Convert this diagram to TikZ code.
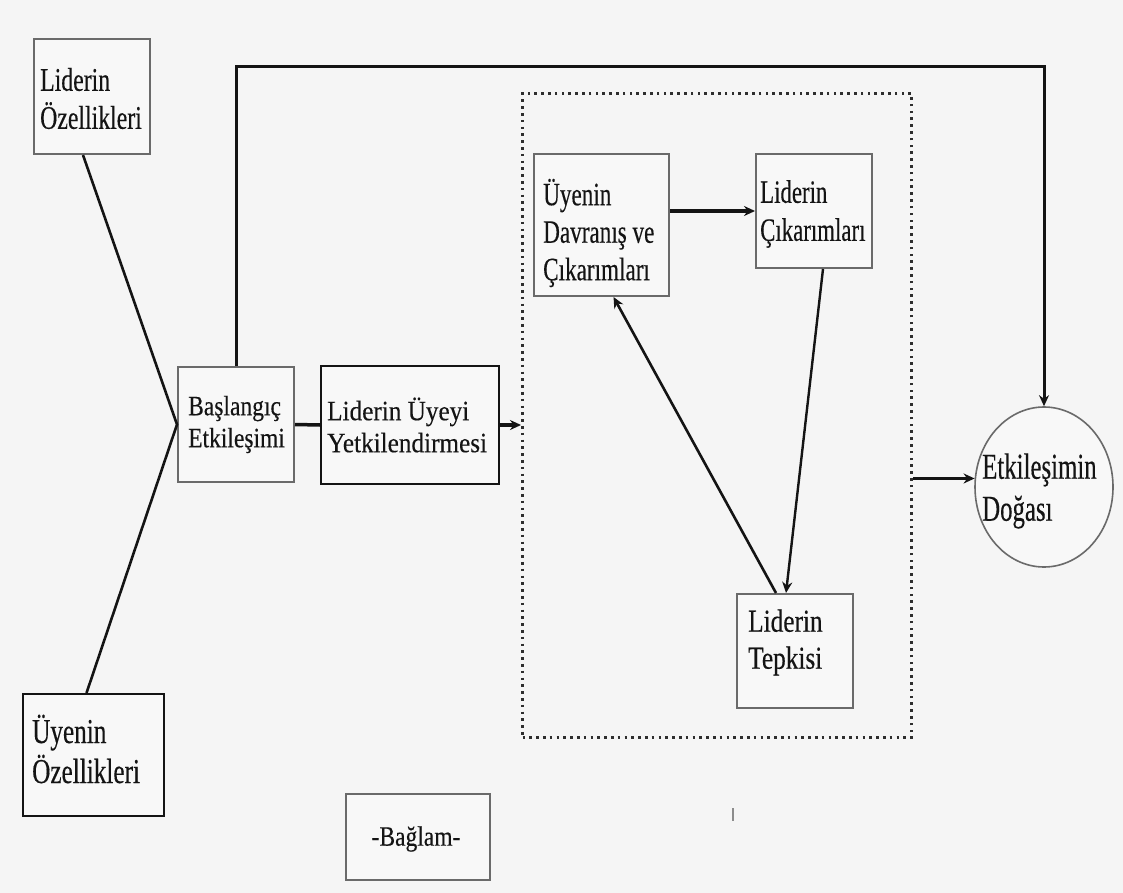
\documentclass[tikz,border=0pt]{standalone}
\usepackage{fontspec}
\setmainfont{Liberation Serif}
\usetikzlibrary{shapes.geometric,arrows.meta,calc}
\definecolor{paper}{HTML}{F5F5F5}
\definecolor{boxfill}{HTML}{F8F8F8}
\definecolor{greyline}{HTML}{6A6A6A}
\definecolor{ink}{HTML}{141414}
% condensed serif face, the width factor is the argument
\newcommand\narrowserif[1]{\fontspec{Liberation Serif}[FakeStretch=#1,FakeBold=0.3]}
\begin{document}
\begin{tikzpicture}[x=1pt,y=-1pt,
  every node/.style={text=ink},
  fs/.style n args={3}{font=\narrowserif{#3}\fontsize{#1}{#2}\selectfont},
  panel/.style={draw=greyline, line width=2pt, fill=boxfill, anchor=north west, inner sep=0pt},
  darkpanel/.style={panel, draw=ink},
  boxlabel/.style={anchor=west, align=left, inner sep=0pt},
  link/.style={draw=ink, line width=3pt},
  arrowlink/.style={link, -{Stealth[length=11pt,width=10pt]}},
  groupframe/.style={draw=black!82, line width=3pt, dash pattern=on 2.6pt off 4.2pt}]

% canvas
\fill[paper] (0,0) rectangle (1123,893);
\useasboundingbox (0,0) rectangle (1123,893);

% dotted frame around the exchange cycle
\node[groupframe, anchor=north west, minimum width=389pt, minimum height=644pt,
  inner sep=0pt] (grp) at (521,92) {};

% boxes
\node[panel, minimum width=116pt, minimum height=115pt] (lo) at (33,38) {};
\node[darkpanel, minimum width=141pt, minimum height=122pt] (uo) at (22,693) {};
\node[panel, minimum width=116pt, minimum height=115pt] (be) at (177,366) {};
\node[darkpanel, minimum width=178pt, minimum height=118pt] (ly) at (320,365) {};
\node[panel, minimum width=135pt, minimum height=142pt] (ud) at (533,153) {};
\node[panel, minimum width=116pt, minimum height=114pt] (lc) at (755,153) {};
\node[panel, minimum width=116pt, minimum height=114pt] (lt) at (736,593) {};
\node[panel, minimum width=144pt, minimum height=86pt] (bg) at (345,793) {};

% outcome ellipse
\node[draw=greyline, line width=1.6pt, fill=boxfill, ellipse, minimum width=138pt,
  minimum height=160pt, inner sep=0pt] (ed) at (1044,487) {};

% box texts
\node[boxlabel, fs={33}{38}{0.72}] (lo-t) at ($(lo.west)+(7,2)$) {Liderin\\Özellikleri};
\node[boxlabel, fs={35}{40}{0.72}] (uo-t) at ($(uo.west)+(10,-6)$) {Üyenin\\Özellikleri};
\node[boxlabel, fs={28}{32}{0.84}] (be-t) at ($(be.west)+(11,0)$) {Başlangıç\\Etkileşimi};
\node[boxlabel, fs={28}{32}{0.90}] (ly-t) at ($(ly.west)+(7,0)$) {Liderin Üyeyi\\Yetkilendirmesi};
\node[boxlabel, fs={32.6}{37.5}{0.71}] (ud-t) at ($(ud.west)+(10,8)$) {Üyenin\\Davranış ve\\Çıkarımları};
\node[boxlabel, fs={32.6}{38}{0.70}] (lc-t) at ($(lc.west)+(5,3)$) {Liderin\\Çıkarımları};
\node[boxlabel, fs={32}{37}{0.79}] (lt-t) at ($(lt.west)+(12,-8.5)$) {Liderin\\Tepkisi};
\node[fs={28}{32}{0.84}, inner sep=0pt] (bg-t) at ($(bg.center)+(-2,2)$) {-Bağlam-};
\node[boxlabel, fs={36.5}{42}{0.68}] (ed-t) at ($(ed.center)+(-62,4)$) {Etkileşimin\\Doğası};

% connectors
\coordinate (J) at (be.west);
\coordinate (topy) at (0,67);
\draw[link, line width=2.6pt] ($(lo.south)+(-9,0)$) -- (J) -- ($(uo.north)+(-7,0)$);
\draw[link, line width=3.5pt] (be.east) -- (ly.west);
\draw[arrowlink, line width=3.5pt] (ly.east) -- (ly.east -| grp.west);
\draw[arrowlink] (be.north) -- (be.north |- topy) -- (ed.north |- topy) -- (ed.north);
\draw[arrowlink, line width=3.5pt] (ud.east |- lc.west) -- (lc.west);
\draw[arrowlink, line width=2.4pt] ($(lc.south)+(9,0)$) -- ($(lt.north)+(-9,0)$);
\draw[arrowlink, line width=2.6pt] ($(lt.north)+(-19,0)$) -- ($(ud.south)+(12,0)$);
\draw[arrowlink, line width=3.5pt] (grp.east |- ed.173) -- (ed.173);

% small stray tick below the frame
\draw[black!45, line width=1.4pt] (733,808) -- (733,821);
\end{tikzpicture}
\end{document}
